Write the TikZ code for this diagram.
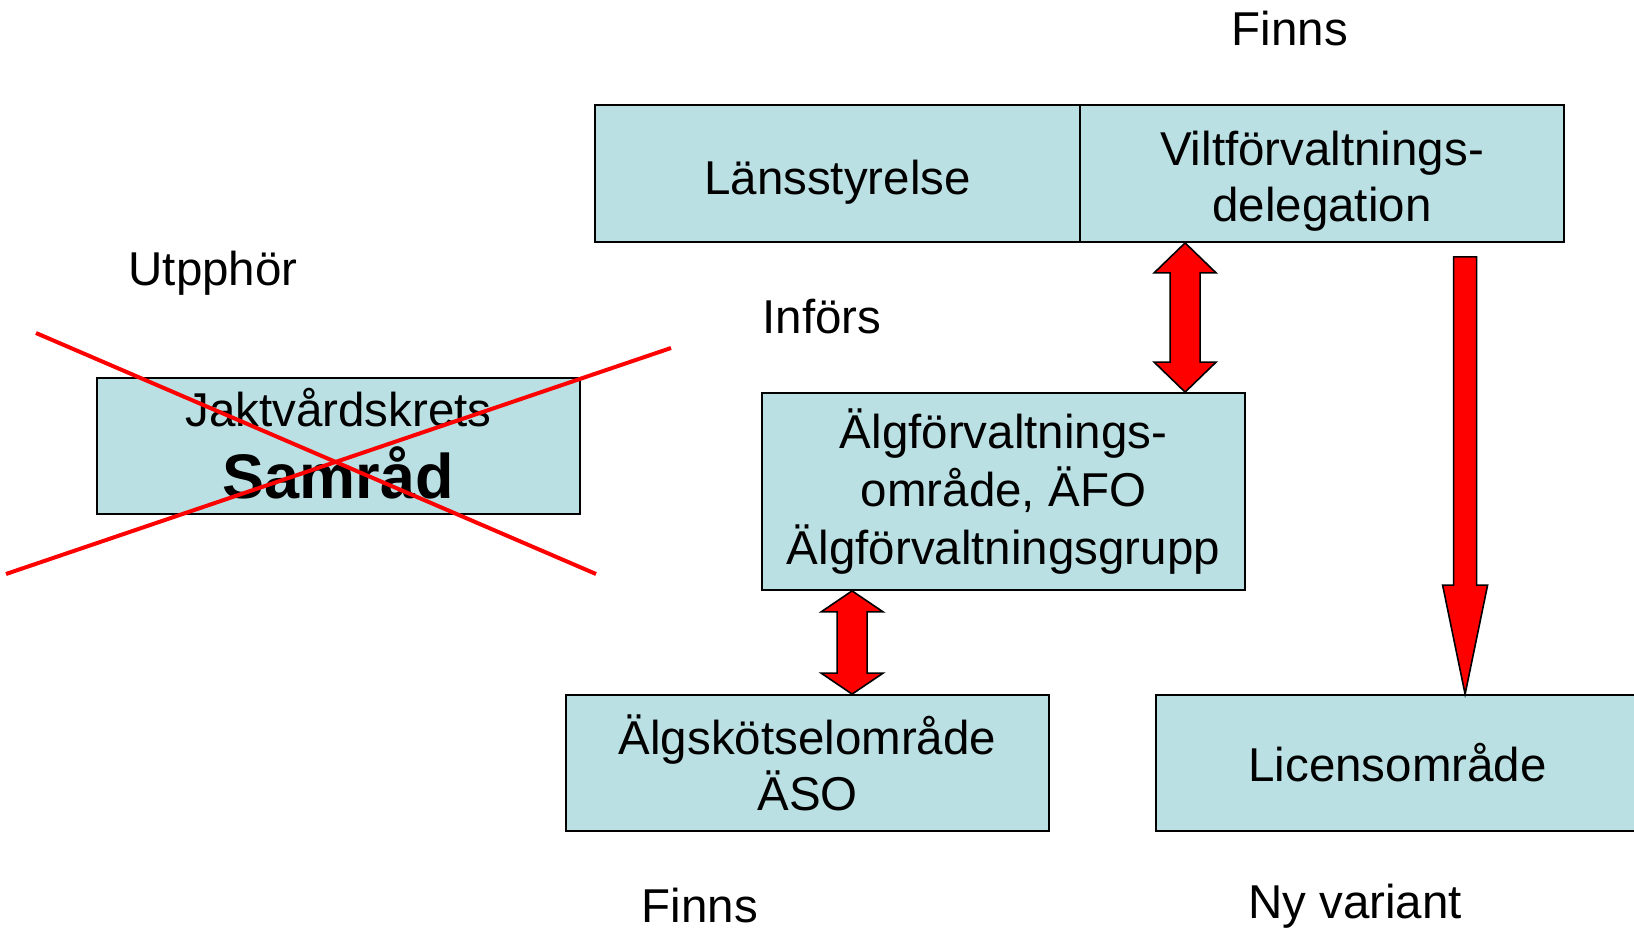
\documentclass[tikz,border=0pt]{standalone}
\usepackage{fontspec}
\setmainfont{Liberation Sans}
\usetikzlibrary{calc}

\definecolor{boxblue}{RGB}{187,224,227}
\newcommand{\bodyfont}{\fontsize{23.75}{28}\selectfont}
\newcommand{\samfont}{\fontsize{31.5}{36}\selectfont\bfseries}
\newcommand{\lowstrut}[1]{\rule{0pt}{#1}}
\tikzset{
  orgbox/.style={draw=black, line width=0.9pt, fill=boxblue, align=center,
    minimum width=241.5pt, minimum height=68pt, font=\bodyfont},
  tag/.style={font=\bodyfont, inner sep=0pt},
  blockarrow/.style={draw=black, line width=0.8pt, fill=red, line join=miter},
  crossline/.style={draw=red, line width=2pt}
}
% double block arrow: top tip, bottom tip, head length
\newcommand{\twoway}[3]{%
  \draw[blockarrow] (#1) -- ++(31,#3) -- ++(-16,0) -- ($(#2)+(15,-#3)$) -- ++(16,0)
    -- (#2) -- ++(-31,-#3) -- ++(16,0) -- ($(#1)+(-15,#3)$) -- ++(-16,0) -- cycle;}

\begin{document}
\begin{tikzpicture}[x=0.5pt, y=-0.5pt]
\useasboundingbox (0,0) rectangle (1634,932);
\node[orgbox, minimum width=242.5pt, minimum height=68.5pt] (lan) at (837.5,173.5) {\lowstrut{25.5pt}Länsstyrelse};
\node[orgbox, minimum width=242pt, minimum height=68.5pt] (vilt) at (1322,173.5) {\lowstrut{25pt}Viltförvaltnings-\\delegation};
\node[orgbox] (jakt) at (338.5,446) {Jaktvårdskrets\\[8pt]{\samfont Samråd\rule[-3pt]{0pt}{0pt}}};
\node[orgbox, minimum height=98.5pt] (afo) at (1003.5,491.5) {Älgförvaltnings-\\[1pt]område, ÄFO\\[1pt]Älgförvaltningsgrupp};
\node[orgbox] (aso) at (807.5,763) {Älgskötselområde\\ÄSO};
\node[orgbox] (lic) at (1397.5,763) {Licensområde};
\node[tag] (finnsT) at (1290,29) {Finns};
\node[tag] (utp) at (213,273) {Utpphör};
\node[tag] (infors) at (822,317) {Införs};
\node[tag] (finnsB) at (700,906) {Finns};
\node[tag] (nyvar) at (1355,906) {Ny variant};
\coordinate (t1) at ($(vilt.south west)+(106,0)$);
\coordinate (b1) at (t1 |- afo.north);
\coordinate (t2) at ($(afo.south west)+(91,0)$);
\coordinate (b2) at (t2 |- aso.north);
\coordinate (s3) at ($(vilt.south west)+(386,14)$);
\coordinate (e3) at (s3 |- lic.north);
\twoway{t1}{b1}{30}
\twoway{t2}{b2}{21}
\draw[blockarrow] ($(s3)+(-11.5,0)$) -- ++(23,0) -- ($(e3)+(11.5,-109)$) -- ++(11,0)
  -- (e3) -- ++(-22.5,-109) -- ++(11,0) -- cycle;
\draw[crossline] (36,333) -- (596,574);
\draw[crossline] (6,574) -- (671,348);
\end{tikzpicture}
\end{document}
